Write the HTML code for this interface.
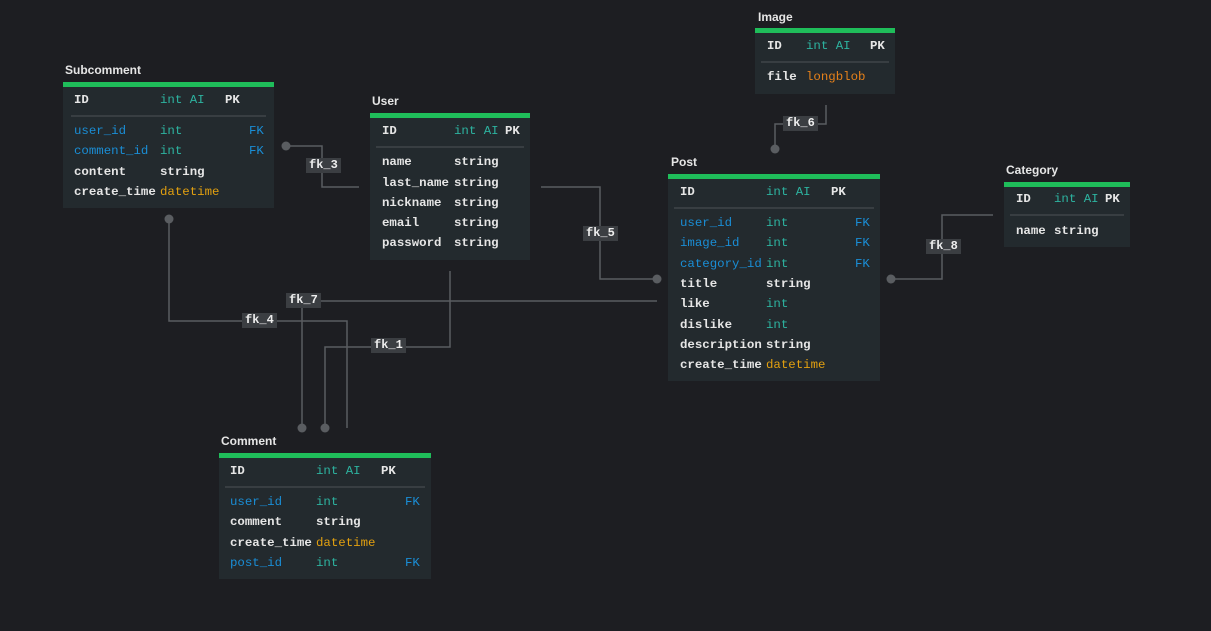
<!DOCTYPE html>
<html><head><meta charset="utf-8"><style>
html,body{margin:0;padding:0;width:1211px;height:631px;background:#1d1e22;overflow:hidden;font-family:"Liberation Mono",monospace;}
.t{position:absolute;font-size:12.4px;font-weight:bold;line-height:14px;white-space:pre;color:#e6e6e6;}
.tt{position:absolute;font-family:"Liberation Sans",sans-serif;font-size:12px;font-weight:bold;color:#e6e6e6;line-height:14px;}
.box{position:absolute;background:#232a2e;border-top:5px solid #1fbd5a;}
.sep{position:absolute;height:2px;background:#383e42;}
.w{color:#e6e6e6}.g{color:#2db3a0;font-weight:normal}.b{color:#1a8ed6;font-weight:normal}.o{color:#e2a010;font-weight:normal}.o2{color:#e5801a;font-weight:normal}
.lb{position:absolute;background:#3b3e42;color:#eee;font-family:"Liberation Mono",monospace;font-size:12px;font-weight:bold;line-height:15px;padding:0 3px;}
svg{position:absolute;left:0;top:0}
</style></head><body>
<svg width="1211" height="631">
<g stroke="#5a5d61" stroke-width="1.5" fill="none">
<polyline points="286,146 322,146 322,187 359,187"/>
<polyline points="541,187 600,187 600,279 657,279"/>
<polyline points="826,105 826,124 775,124 775,149"/>
<polyline points="891,279 942,279 942,215 993,215"/>
<polyline points="657,301 302,301 302,428"/>
<polyline points="169,219 169,321 347,321 347,428"/>
<polyline points="450,271 450,347 325,347 325,428"/>
</g>
<g fill="#5a5d61">
<circle cx="286" cy="146" r="4.5"/><circle cx="657" cy="279" r="4.5"/><circle cx="775" cy="149" r="4.5"/>
<circle cx="891" cy="279" r="4.5"/><circle cx="302" cy="428" r="4.5"/><circle cx="325" cy="428" r="4.5"/><circle cx="169" cy="219" r="4.5"/>
</g>
</svg>
<div class="lb" style="left:306px;top:158px">fk_3</div>
<div class="lb" style="left:583px;top:226px">fk_5</div>
<div class="lb" style="left:783px;top:116px">fk_6</div>
<div class="lb" style="left:926px;top:239px">fk_8</div>
<div class="lb" style="left:286px;top:293px">fk_7</div>
<div class="lb" style="left:242px;top:313px">fk_4</div>
<div class="lb" style="left:371px;top:338px">fk_1</div>

<!-- Subcomment -->
<div class="tt" style="left:65px;top:63px">Subcomment</div>
<div class="box" style="left:63px;top:82px;width:211px;height:121px"></div>
<div class="sep" style="left:71px;top:115px;width:195px"></div>
<div class="t" style="left:74px;top:93px">ID</div><div class="t g" style="left:160px;top:93px">int AI</div><div class="t" style="left:225px;top:93px">PK</div>
<div class="t b" style="left:74px;top:124px">user_id</div><div class="t g" style="left:160px;top:124px">int</div><div class="t b" style="left:249px;top:124px">FK</div>
<div class="t b" style="left:74px;top:144px">comment_id</div><div class="t g" style="left:160px;top:144px">int</div><div class="t b" style="left:249px;top:144px">FK</div>
<div class="t" style="left:74px;top:165px">content</div><div class="t" style="left:160px;top:165px">string</div>
<div class="t" style="left:74px;top:185px">create_time</div><div class="t o" style="left:160px;top:185px">datetime</div>

<!-- User -->
<div class="tt" style="left:372px;top:94px">User</div>
<div class="box" style="left:370px;top:113px;width:160px;height:142px"></div>
<div class="sep" style="left:376px;top:146px;width:148px"></div>
<div class="t" style="left:382px;top:124px">ID</div><div class="t g" style="left:454px;top:124px">int AI</div><div class="t" style="left:505px;top:124px">PK</div>
<div class="t" style="left:382px;top:155px">name</div><div class="t" style="left:454px;top:155px">string</div>
<div class="t" style="left:382px;top:176px">last_name</div><div class="t" style="left:454px;top:176px">string</div>
<div class="t" style="left:382px;top:196px">nickname</div><div class="t" style="left:454px;top:196px">string</div>
<div class="t" style="left:382px;top:216px">email</div><div class="t" style="left:454px;top:216px">string</div>
<div class="t" style="left:382px;top:236px">password</div><div class="t" style="left:454px;top:236px">string</div>

<!-- Image -->
<div class="tt" style="left:758px;top:10px">Image</div>
<div class="box" style="left:755px;top:28px;width:140px;height:61px"></div>
<div class="sep" style="left:761px;top:61px;width:128px"></div>
<div class="t" style="left:767px;top:39px">ID</div><div class="t g" style="left:806px;top:39px">int AI</div><div class="t" style="left:870px;top:39px">PK</div>
<div class="t" style="left:767px;top:70px">file</div><div class="t o2" style="left:806px;top:70px">longblob</div>

<!-- Post -->
<div class="tt" style="left:671px;top:155px">Post</div>
<div class="box" style="left:668px;top:174px;width:212px;height:202px"></div>
<div class="sep" style="left:674px;top:207px;width:200px"></div>
<div class="t" style="left:680px;top:185px">ID</div><div class="t g" style="left:766px;top:185px">int AI</div><div class="t" style="left:831px;top:185px">PK</div>
<div class="t b" style="left:680px;top:216px">user_id</div><div class="t g" style="left:766px;top:216px">int</div><div class="t b" style="left:855px;top:216px">FK</div>
<div class="t b" style="left:680px;top:236px">image_id</div><div class="t g" style="left:766px;top:236px">int</div><div class="t b" style="left:855px;top:236px">FK</div>
<div class="t b" style="left:680px;top:257px">category_id</div><div class="t g" style="left:766px;top:257px">int</div><div class="t b" style="left:855px;top:257px">FK</div>
<div class="t" style="left:680px;top:277px">title</div><div class="t" style="left:766px;top:277px">string</div>
<div class="t" style="left:680px;top:297px">like</div><div class="t g" style="left:766px;top:297px">int</div>
<div class="t" style="left:680px;top:318px">dislike</div><div class="t g" style="left:766px;top:318px">int</div>
<div class="t" style="left:680px;top:338px">description</div><div class="t" style="left:766px;top:338px">string</div>
<div class="t" style="left:680px;top:358px">create_time</div><div class="t o" style="left:766px;top:358px">datetime</div>

<!-- Category -->
<div class="tt" style="left:1006px;top:163px">Category</div>
<div class="box" style="left:1004px;top:182px;width:126px;height:60px"></div>
<div class="sep" style="left:1010px;top:214px;width:114px"></div>
<div class="t" style="left:1016px;top:192px">ID</div><div class="t g" style="left:1054px;top:192px">int AI</div><div class="t" style="left:1105px;top:192px">PK</div>
<div class="t" style="left:1016px;top:224px">name</div><div class="t" style="left:1054px;top:224px">string</div>

<!-- Comment -->
<div class="tt" style="left:221px;top:434px">Comment</div>
<div class="box" style="left:219px;top:453px;width:212px;height:121px"></div>
<div class="sep" style="left:225px;top:486px;width:200px"></div>
<div class="t" style="left:230px;top:464px">ID</div><div class="t g" style="left:316px;top:464px">int AI</div><div class="t" style="left:381px;top:464px">PK</div>
<div class="t b" style="left:230px;top:495px">user_id</div><div class="t g" style="left:316px;top:495px">int</div><div class="t b" style="left:405px;top:495px">FK</div>
<div class="t" style="left:230px;top:515px">comment</div><div class="t" style="left:316px;top:515px">string</div>
<div class="t" style="left:230px;top:536px">create_time</div><div class="t o" style="left:316px;top:536px">datetime</div>
<div class="t b" style="left:230px;top:556px">post_id</div><div class="t g" style="left:316px;top:556px">int</div><div class="t b" style="left:405px;top:556px">FK</div>
</body></html>
